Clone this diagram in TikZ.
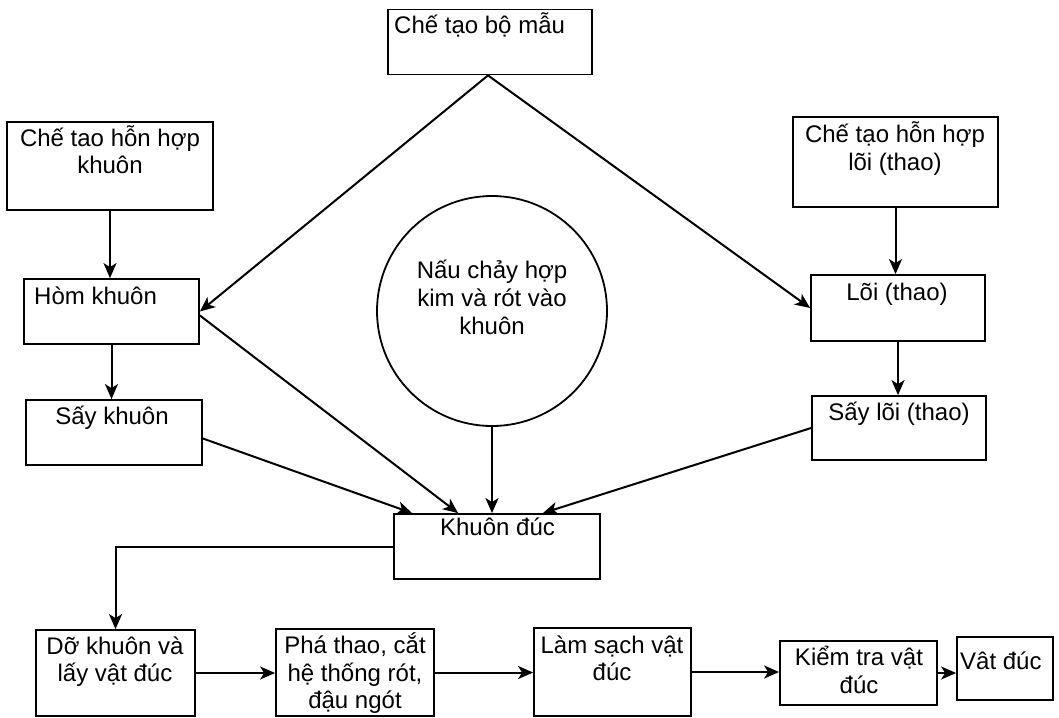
\documentclass[tikz,border=0pt]{standalone}
\usepackage{fontspec}
\setmainfont{Liberation Sans}
\usetikzlibrary{arrows.meta,calc}
\begin{document}
\begin{tikzpicture}[x=1pt,y=-1pt,
  box/.style={draw, line width=1.8pt, rectangle, inner sep=0pt},
  round/.style={draw, line width=1.8pt, circle, inner sep=0pt, minimum size=230pt},
  txt/.style={font=\fontsize{24}{27}\selectfont, inner sep=0pt, anchor=base},
  txtl/.style={txt, anchor=base west},
  arr/.style={line width=2pt, -{Stealth[length=15pt,width=13pt,inset=4pt]}}]
\useasboundingbox (0,0) rectangle (1059,717);
% boxes
\node[box, minimum width=204pt, minimum height=65pt] (mau) at (490,42) {};
\node[box, minimum width=206pt, minimum height=88pt] (mixk) at (110,166) {};
\node[box, minimum width=175pt, minimum height=65pt] (hom) at (111.5,311.5) {};
\node[box, minimum width=176pt, minimum height=65pt] (saykh) at (114,432.5) {};
\node[round] (circ) at (492,311) {};
\node[box, minimum width=205pt, minimum height=90pt] (mixl) at (895.5,162) {};
\node[box, minimum width=174pt, minimum height=66pt] (loi) at (898,308) {};
\node[box, minimum width=174pt, minimum height=64pt] (sayloi) at (899,428) {};
\node[box, minimum width=206pt, minimum height=65pt] (khuon) at (497,546.5) {};
\node[box, minimum width=159pt, minimum height=86pt] (do) at (115.5,673) {};
\node[box, minimum width=158pt, minimum height=87pt] (pha) at (355,672.5) {};
\node[box, minimum width=157pt, minimum height=88pt] (lam) at (612.5,672) {};
\node[box, minimum width=157pt, minimum height=64pt] (kiem) at (858.5,673) {};
\node[box, minimum width=96pt, minimum height=63pt] (vat) at (1005,668.5) {};
% texts
\node[txtl] (t1) at (394,34) {Chế tạo bộ mẫu};
\node[txt] (t2a) at (110,146) {Chế tao hỗn hợp};
\node[txt] (t2b) at (110,173) {khuôn};
\node[txtl] (t3) at (34,304) {Hòm khuôn};
\node[txt] (t4) at (112,424) {Sấy khuôn};
\node[txt] (t5a) at (492,278) {Nấu chảy hợp};
\node[txt] (t5b) at (492,306) {kim và rót vào};
\node[txt] (t5c) at (492,334) {khuôn};
\node[txt] (t6a) at (895,142) {Chế tạo hỗn hợp};
\node[txt] (t6b) at (895,170) {lõi (thao)};
\node[txt] (t7) at (897,300) {Lõi (thao)};
\node[txt] (t8) at (899,420) {Sấy lõi (thao)};
\node[txt] (t9) at (497.5,535) {Khuôn đúc};
\node[txt] (t10a) at (115,654) {Dỡ khuôn và};
\node[txt] (t10b) at (115,681) {lấy vật đúc};
\node[txt] (t11a) at (355,653) {Phá thao, cắt};
\node[txt] (t11b) at (355,681) {hệ thống rót,};
\node[txt] (t11c) at (355,708) {đậu ngót};
\node[txt] (t12a) at (612,653.5) {Làm sạch vật};
\node[txt] (t12b) at (612,680.5) {đúc};
\node[txt] (t13a) at (859,665) {Kiểm tra vật};
\node[txt] (t13b) at (859,693) {đúc};
\node[txtl] (t14) at (960,669) {Vât đúc};
% connectors
\draw[arr] (mixk.south) -- (mixk.south |- hom.north);
\draw[arr] (hom.south) -- (hom.south |- saykh.north);
\draw[arr] (mixl.south) -- (mixl.south |- loi.north);
\draw[arr] (loi.south) -- (loi.south |- sayloi.north);
\draw[arr] ($(mau.south)+(-2,0)$) -- (hom.east);
\draw[arr] ($(mau.south)+(-2,0)$) -- (loi.west);
\draw[arr] ($(hom.east)+(0,4)$) -- ($(khuon.north west)+(65,0)$);
\draw[arr] ($(saykh.east)+(0,6)$) -- ($(khuon.north west)+(19,0)$);
\draw[arr] (circ.south) -- (circ.south |- khuon.north);
\draw[arr] (sayloi.west) -- ($(khuon.north east)+(-58,0)$);
\draw[arr] (khuon.west) -| (do.north);
\draw[arr] (do.east) -- (do.east -| pha.west);
\draw[arr] (pha.east) -- (pha.east -| lam.west);
\draw[arr] (lam.east) -- (lam.east -| kiem.west);
\draw[arr] (kiem.east) -- (kiem.east -| vat.west);
\end{tikzpicture}
\end{document}
